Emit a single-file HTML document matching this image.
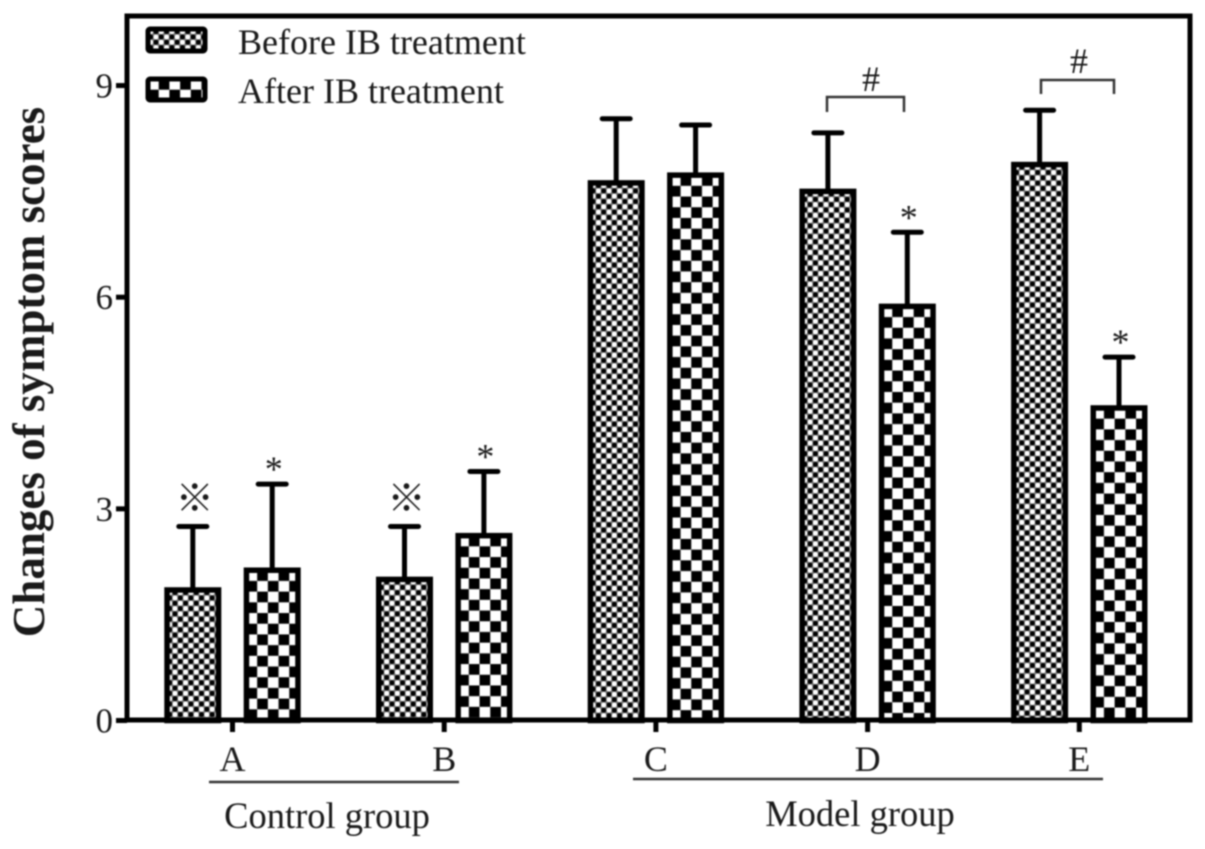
<!DOCTYPE html>
<html>
<head>
<meta charset="utf-8">
<style>
html,body{margin:0;padding:0;background:#fff;width:1205px;height:849px;overflow:hidden}
svg{display:block;filter:blur(0.7px)}
text{font-family:"Liberation Serif","Noto Serif CJK SC",serif;fill:#1a1a1a}
</style>
</head>
<body>
<svg id="chart" xmlns="http://www.w3.org/2000/svg" width="1205" height="849" viewBox="0 0 1205 849">
<defs id="defs"></defs>
<rect x="0" y="0" width="1205" height="849" fill="#fff"></rect>
<g id="bars"></g>
<rect x="127" y="16" width="1063" height="704" fill="none" stroke="#000" stroke-width="5"></rect>
<g id="axis"></g>
<g>
<rect id="leg1" x="148" y="29" width="57" height="22" rx="2" stroke="#000" stroke-width="5"></rect>
<text x="238" y="54" font-size="36">Before IB treatment</text>
<rect id="leg2" x="148" y="79" width="57" height="21" rx="2" stroke="#000" stroke-width="5"></rect>
<text x="238" y="103" font-size="36">After IB treatment</text>
</g>
<text transform="translate(44,372) rotate(-90)" text-anchor="middle" font-size="45" font-weight="bold">Changes of symptom scores</text>
<line x1="209" y1="782" x2="459" y2="782" stroke="#333" stroke-width="2.5"></line>
<line x1="633" y1="779" x2="1103" y2="779" stroke="#333" stroke-width="2.5"></line>
<text x="327" y="828" text-anchor="middle" font-size="36.5">Control group</text>
<text x="860" y="826" text-anchor="middle" font-size="36.5">Model group</text>
<g>
<path d="M827 112V97H904V112" fill="none" stroke="#333" stroke-width="2.5"></path>
<text x="871" y="91" text-anchor="middle" font-size="36">#</text>
</g>
<g>
<path d="M1041 94V80H1114V94" fill="none" stroke="#333" stroke-width="2.5"></path>
<text x="1079" y="73" text-anchor="middle" font-size="36">#</text>
</g>
<g id="marks"></g>
</svg>
<script>
const groups = ['A', 'B', 'C', 'D', 'E'];
const before = [1.85, 2.0, 7.62, 7.5, 7.88];
const after = [2.13, 2.62, 7.73, 5.87, 4.43];
const beforeErr = [0.9, 0.75, 0.91, 0.83, 0.77];
const afterErr = [1.22, 0.91, 0.71, 1.05, 0.72];
const beforeMarks = ['※', '※', '', '', ''];
const afterMarks = ['*', '*', '', '*', '*'];
const yTicks = [0, 3, 6, 9];

const NS = 'http://www.w3.org/2000/svg';
const yScale = function (v) { return 720.5 - v * 70.55; };
const groupX = function (i) { return 232.5 + i * 211.7; };
const barW = 51.5;
const offset = 39.7;
const defs = document.getElementById('defs');
const barsG = document.getElementById('bars');
const axisG = document.getElementById('axis');
const marksG = document.getElementById('marks');

function mk(tag, attrs, parent) {
  const el = document.createElementNS(NS, tag);
  for (const k in attrs) el.setAttribute(k, attrs[k]);
  if (parent) parent.appendChild(el);
  return el;
}

function dotPattern(id, x, y) {
  const p = mk('pattern', { id: id, patternUnits: 'userSpaceOnUse', x: x, y: y, width: 10.6, height: 10.6 }, defs);
  mk('rect', { width: 10.6, height: 10.6, fill: '#777' }, p);
  mk('circle', { cx: 2.65, cy: 2.65, r: 2.6, fill: '#fff' }, p);
  mk('circle', { cx: 7.95, cy: 7.95, r: 2.6, fill: '#fff' }, p);
  mk('circle', { cx: 7.95, cy: 2.65, r: 2.6, fill: '#000' }, p);
  mk('circle', { cx: 2.65, cy: 7.95, r: 2.6, fill: '#000' }, p);
}

function checkPattern(id, x, y) {
  const p = mk('pattern', { id: id, patternUnits: 'userSpaceOnUse', x: x, y: y, width: 21.4, height: 21.4 }, defs);
  mk('rect', { width: 21.4, height: 21.4, fill: '#fff' }, p);
  mk('rect', { x: 10.7, y: 0, width: 10.7, height: 10.7, fill: '#000' }, p);
  mk('rect', { x: 0, y: 10.7, width: 10.7, height: 10.7, fill: '#000' }, p);
}

function drawBar(cx, value, err, fillId, makePattern, name) {
  const top = yScale(value);
  const left = cx - barW / 2;
  makePattern(fillId, left, top);
  const errTop = yScale(value + err);
  const g = mk('g', {}, barsG);
  
  
  const stem = mk('line', { x1: cx, x2: cx, y1: top, y2: errTop, stroke: '#000', 'stroke-width': 5 }, g);
  
  
  const cap = mk('line', { x1: cx - 14, x2: cx + 14, y1: errTop, y2: errTop, stroke: '#000', 'stroke-width': 5, 'stroke-linecap': 'round' }, g);
  
  
  const rect = mk('rect', { x: left, y: top, width: barW, height: yScale(0) - top, fill: 'url(#' + fillId + ')', stroke: '#000', 'stroke-width': 5.5 }, g);
  
  
}

function drawMark(cx, value, err, mark, name) {
  if (!mark) return;
  const t = mk('text', { 'text-anchor': 'middle' }, marksG);
  
  
  const errTop = yScale(value + err);
  if (mark === '*') {
    t.setAttribute('x', cx + 1.5);
    t.setAttribute('y', errTop - 3);
    t.setAttribute('font-size', 36);
  } else {
    t.setAttribute('x', cx + 2);
    t.setAttribute('y', errTop - 15);
    t.setAttribute('font-size', 38);
  }
  t.textContent = mark;
}

groups.forEach(function (g, i) {
  const c = groupX(i);
  const lower = g.toLowerCase();
  drawBar(c - offset, before[i], beforeErr[i], 'pb' + i, dotPattern, 'bar-before-' + lower);
  drawBar(c + offset, after[i], afterErr[i], 'pa' + i, checkPattern, 'bar-after-' + lower);
  drawMark(c - offset, before[i], beforeErr[i], beforeMarks[i], 'mark-before-' + lower);
  drawMark(c + offset, after[i], afterErr[i], afterMarks[i], 'mark-after-' + lower);
  const tick = mk('line', { x1: c, x2: c, y1: 720, y2: 732, stroke: '#000', 'stroke-width': 5 }, axisG);
  
  
  const label = mk('text', { x: c, y: 771, 'text-anchor': 'middle', 'font-size': 36 }, axisG);
  
  
  label.textContent = g;
});

yTicks.forEach(function (v) {
  const y = yScale(v);
  const tick = mk('line', { x1: 116, x2: 127, y1: y, y2: y, stroke: '#000', 'stroke-width': 5 }, axisG);
  
  
  const label = mk('text', { x: 113, y: y + 12, 'text-anchor': 'end', 'font-size': 35 }, axisG);
  
  
  label.textContent = v;
});

dotPattern('legDot', 148, 29);
checkPattern('legCheck', 148, 79);
document.getElementById('leg1').setAttribute('fill', 'url(#legDot)');
document.getElementById('leg2').setAttribute('fill', 'url(#legCheck)');
</script>
</body>
</html>
